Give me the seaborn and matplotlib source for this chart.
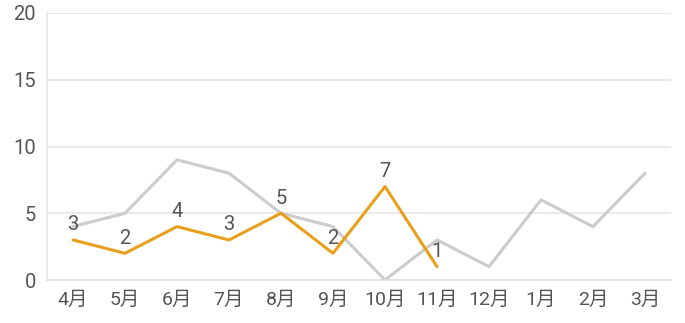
import matplotlib
matplotlib.use("Agg")
import matplotlib.pyplot as plt
import seaborn as sns
import pandas as pd
import numpy as np

months = ["4月", "5月", "6月", "7月", "8月", "9月", "10月", "11月", "12月", "1月", "2月", "3月"]
prev_year = [4, 5, 9, 8, 5, 4, 0, 3, 1, 6, 4, 8]
this_year = [3, 2, 4, 3, 5, 2, 7, 1, np.nan, np.nan, np.nan, np.nan]
y_ticks = [0, 5, 10, 15, 20]

sns.set_theme(style="white")
plt.rcParams['font.family'] = ['Roboto', 'Noto Sans CJK JP', 'DejaVu Sans']
plt.rcParams['font.weight'] = 'normal'

df = pd.DataFrame({"x": np.arange(len(months)), "prev": prev_year, "this": this_year})

fig = plt.figure(figsize=(6.85, 3.23), dpi=100)
ax = fig.add_axes([47/685, 1 - 280/323, (671-47)/685, (280-13)/323])

sns.lineplot(data=df, x="x", y="prev", ax=ax, color="#CCCCCC", linewidth=2.2, zorder=2)
sns.lineplot(data=df.dropna(), x="x", y="this", ax=ax, color="#E8A01C", linewidth=2.2, zorder=3)

for xi, v in zip(df["x"], this_year):
    if not np.isnan(v):
        ax.annotate(f"{int(v)}", (xi, v), xytext=(0, 4), textcoords="offset points",
                    ha="center", va="bottom", fontsize=14.5, color="#555555", zorder=4)

ax.set_xlim(-0.5, len(months) - 0.5)
ax.set_ylim(0, 20)
ax.set_yticks(y_ticks)
ax.set_xticks(np.arange(len(months)))
ax.set_xticklabels(months)
ax.set_yticklabels([str(t) for t in y_ticks])
ax.set_xlabel("")
ax.set_ylabel("")
ax.yaxis.grid(True, color="#E6E6E6", linewidth=1.2)
ax.set_axisbelow(True)
for s in ["top", "right"]:
    ax.spines[s].set_visible(False)
ax.spines["left"].set_color("#E6E6E6")
ax.spines["bottom"].set_color("#E0E0E0")
ax.spines["left"].set_linewidth(1.2)
ax.spines["bottom"].set_linewidth(1.2)
ax.tick_params(axis="y", labelsize=14.5, labelcolor="#555555", length=0, pad=8)
ax.tick_params(axis="x", labelsize=14, labelcolor="#555555", length=0, pad=8)

fig.savefig("out.png", dpi=100)
